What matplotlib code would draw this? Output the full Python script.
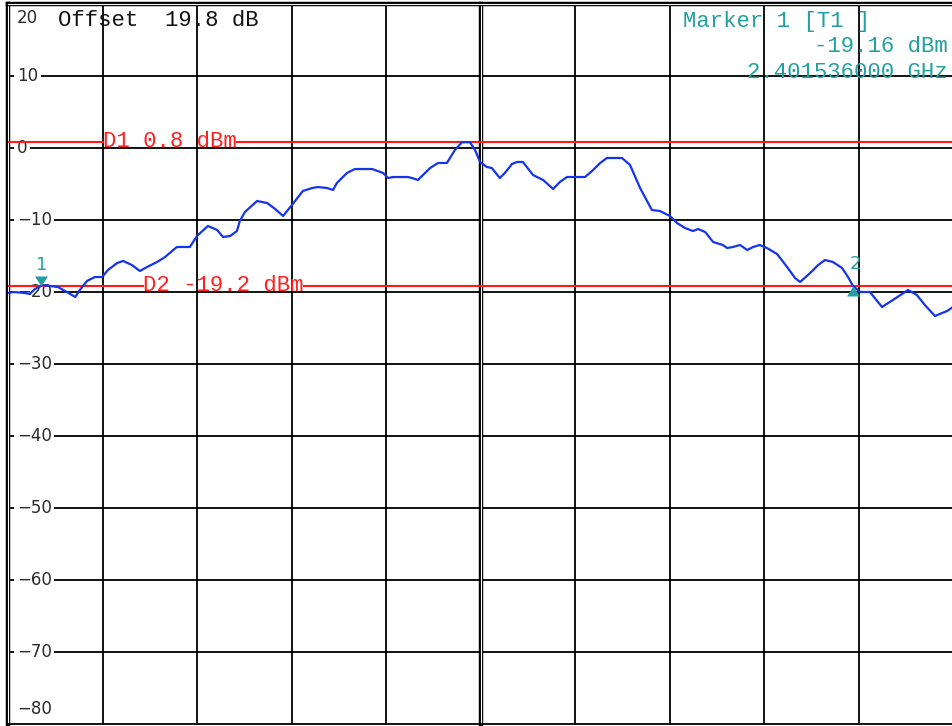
import matplotlib
matplotlib.use('Agg')
import matplotlib.pyplot as plt
import numpy as np

# trace: frequency (MHz) and level (dBm)
freq_mhz = [2400.75, 2400.87, 2401.15, 2401.27, 2401.39, 2401.58, 2401.75, 2401.94,
            2402.15, 2402.35, 2402.46, 2402.63, 2402.82, 2402.99, 2403.13, 2403.35,
            2403.49, 2403.70, 2403.89, 2404.06, 2404.30, 2404.49, 2404.77, 2405.08,
            2405.25, 2405.51, 2405.73, 2405.87, 2406.04, 2406.20, 2406.27, 2406.39,
            2406.68, 2406.92, 2407.11, 2407.30, 2407.51, 2407.77, 2407.99, 2408.13,
            2408.35, 2408.49, 2408.58, 2408.82, 2409.01, 2409.42, 2409.68, 2409.80,
            2409.92, 2410.27, 2410.37, 2410.51, 2410.80, 2410.99, 2411.20, 2411.39,
            2411.56, 2411.75, 2411.87, 2411.99, 2412.15, 2412.27, 2412.46, 2412.58,
            2412.75, 2412.87, 2413.01, 2413.25, 2413.49, 2413.73, 2413.89, 2414.06,
            2414.49, 2414.68, 2414.85, 2415.01, 2415.37, 2415.56, 2415.80, 2416.08,
            2416.27, 2416.51, 2416.68, 2416.87, 2417.06, 2417.18, 2417.35, 2417.54,
            2417.77, 2417.87, 2418.01, 2418.18, 2418.35, 2418.49, 2418.65, 2418.82,
            2419.06, 2419.30, 2419.49, 2419.61, 2419.85, 2420.04, 2420.20, 2420.39,
            2420.61, 2420.75, 2420.87, 2421.04, 2421.27, 2421.56, 2421.82, 2422.18,
            2422.39, 2422.58, 2422.82, 2423.11, 2423.25]
level_dbm = [-20.14, -20.00, -20.14, -20.28, -19.58, -19.03, -19.17, -19.31,
             -20.00, -20.69, -19.72, -18.47, -17.92, -17.92, -16.94, -15.97,
             -15.69, -16.25, -17.08, -16.53, -15.83, -15.14, -13.75, -13.75,
             -12.22, -10.83, -11.39, -12.36, -12.22, -11.53, -10.14, -8.89,
             -7.36, -7.64, -8.47, -9.44, -7.92, -5.97, -5.56, -5.42,
             -5.56, -5.83, -4.86, -3.47, -2.92, -2.92, -3.47, -4.17,
             -4.03, -4.03, -4.17, -4.44, -2.78, -2.08, -2.08, -0.28,
             0.80, 0.80, -0.28, -1.94, -2.64, -2.78, -4.17, -3.47,
             -2.22, -1.94, -1.94, -3.75, -4.44, -5.69, -4.72, -4.03,
             -4.03, -3.06, -2.08, -1.39, -1.39, -2.36, -5.56, -8.61,
             -8.75, -9.44, -10.42, -11.11, -11.53, -11.25, -11.67, -13.06,
             -13.47, -13.89, -13.75, -13.47, -14.17, -13.75, -13.47, -13.89,
             -14.72, -16.53, -18.06, -18.61, -17.36, -16.25, -15.56, -15.83,
             -16.67, -17.92, -19.17, -20.00, -20.00, -22.08, -21.11, -19.72,
             -20.42, -21.81, -23.33, -22.64, -22.08]

center_mhz = 2412.0
span_mhz = 22.5
ref_level = 20
ref_offset = 19.8
y_labels = [20, 10, 0, -10, -20, -30, -40, -50, -60, -70, -80]

d1_dbm = 0.8
d2_dbm = -19.2

marker_names = ['1', '2']
marker_freq = [2401.536, 2420.87]
marker_level = [-19.16, -19.17]

W, H = 953, 726
teal = '#22a0a0'
mono = 'Liberation Mono'

fig = plt.figure(figsize=(W / 100, H / 100), dpi=100)
ax = fig.add_axes([8 / W, 2 / H, 945 / W, 720 / H])
start = center_mhz - span_mhz / 2
stop = center_mhz + span_mhz / 2
div = span_mhz / 10
ax.set_xlim(start, stop)
ax.set_ylim(ref_level - 100, ref_level)
ax.set_axis_off()

# graticule
for v in range(ref_level - 90, ref_level, 10):
    ax.axhline(v, color='k', lw=1.3, zorder=1)
for k in range(1, 10):
    if k != 5:
        ax.axvline(start + k * div, color='k', lw=1.3, zorder=1)
# double lines: centre, left edge and top edge
for kw in [dict(x=center_mhz), dict(x=start)]:
    ax.axvline(**kw, color='k', lw=3.2, zorder=1, clip_on=False)
    ax.axvline(**kw, color='white', lw=0.8, zorder=1, clip_on=False)
ax.axhline(ref_level, color='k', lw=3.2, zorder=1, clip_on=False)
ax.axhline(ref_level, color='white', lw=0.8, zorder=1, clip_on=False)
ax.axhline(ref_level - 100, color='k', lw=1.3, zorder=1, clip_on=False)

# level labels inside the grid
lab_x = 0.0095
for v in y_labels:
    s = str(v).replace('-', '\u2212')
    if v == ref_level:
        dy = -14
    elif v == ref_level - 100:
        dy = 15
    else:
        dy = 0
    ax.annotate(s, xy=(lab_x, v), xycoords=('axes fraction', 'data'),
                xytext=(0, dy), textcoords='offset pixels',
                ha='left', va='center', fontsize=12, color='#2a2a2a',
                family='DejaVu Sans', zorder=2,
                bbox=dict(boxstyle='square,pad=0.15', fc='white', ec='none'))

ax.text((58 - 8) / 945, 0.9694, 'Offset  %.1f dB' % ref_offset,
        transform=ax.transAxes, ha='left', va='baseline',
        family=mono, fontsize=16, color='#111111', zorder=3)

# marker readout
ax.text((683 - 8) / 945, 0.968, 'Marker 1 [T1 ]', transform=ax.transAxes,
        ha='left', va='baseline', family=mono, fontsize=16, color=teal, zorder=3)
ax.text(0.9947, 0.933, '%.2f dBm' % marker_level[0], transform=ax.transAxes,
        ha='right', va='baseline', family=mono, fontsize=16, color=teal, zorder=3)
ax.text(0.9947, 0.897, '%.9f GHz' % (marker_freq[0] / 1000), transform=ax.transAxes,
        ha='right', va='baseline', family=mono, fontsize=16, color=teal, zorder=3)

# display lines with their labels
line_texts = []
for name, lvl, x0, dy in [('D1', d1_dbm, 103, -5), ('D2', d2_dbm, 143, -4.5)]:
    t = ax.annotate('%s %.1f dBm' % (name, lvl), xy=((x0 - 8) / 945, lvl),
                    xycoords=('axes fraction', 'data'), xytext=(0, dy),
                    textcoords='offset pixels', ha='left', va='baseline',
                    family=mono, fontsize=16, color='#ff2020', zorder=3)
    line_texts.append((t, lvl))

fig.canvas.draw()
r = fig.canvas.get_renderer()
for t, lvl in line_texts:
    bb = t.get_window_extent(r)
    xa, xb = ax.transAxes.inverted().transform([[bb.x0, 0], [bb.x1, 0]])[:, 0]
    ax.axhline(lvl, 0, xa, color='#ff1a1a', lw=1.5, zorder=3)
    ax.axhline(lvl, xb, 1, color='#ff1a1a', lw=1.5, zorder=3)

# trace
ax.plot(freq_mhz, level_dbm, color='#1434ee', lw=1.6, zorder=4,
        solid_joinstyle='round')

# markers: 1 points down onto the trace, 2 points up
down_tri = [(0, 0), (-0.65, 1), (0.65, 1), (0, 0)]
up_tri = [(0, 0), (-0.65, -1), (0.65, -1), (0, 0)]
for name, f, lvl, shape, off in zip(marker_names, marker_freq, marker_level,
                                    [down_tri, up_tri], [(1, 21), (2, 22)]):
    ax.plot([f], [lvl], marker=shape, markersize=14.4, color=teal,
            markeredgewidth=0, linestyle='none', zorder=5)
    ax.annotate(name, xy=(f, lvl), xytext=off, textcoords='offset pixels',
                ha='center', va='center', fontsize=13, color=teal,
                family='DejaVu Sans', zorder=5)

fig.savefig('out.png', dpi=100, facecolor='white')
